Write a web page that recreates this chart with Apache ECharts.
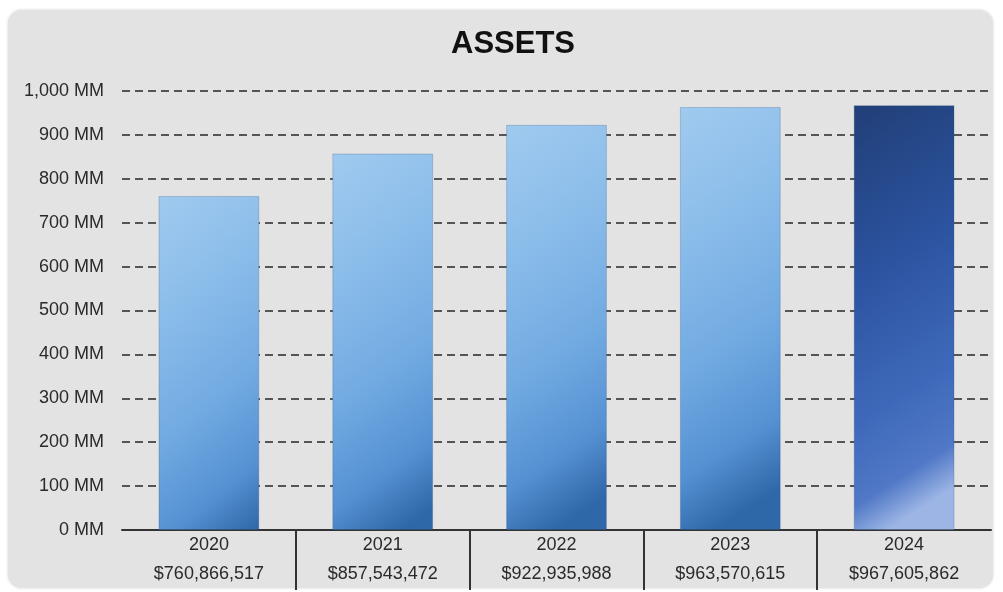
<!DOCTYPE html>
<html>
<head>
<meta charset="utf-8">
<script src="https://cdn.jsdelivr.net/npm/echarts@6/dist/echarts.min.js"></script>
<style>
  html, body { margin: 0; padding: 0; background: #ffffff; }
  #panel {
    position: absolute; left: 8px; top: 10px; width: 985px; height: 578px;
    background: #e3e3e3; border-radius: 14px;
    box-shadow: 0 0 3px rgba(0, 0, 0, 0.18);
  }
  #chart { position: absolute; left: 0; top: 0; width: 1003px; height: 592px; }
</style>
</head>
<body>
<div id="panel"></div>
<div id="chart"></div>
<script>
// Total assets by year, in dollars
const years = ['2020', '2021', '2022', '2023', '2024'];
const assets = [760866517, 857543472, 922935988, 963570615, 967605862];
const highlightYear = '2024';

// Value axis ticks (dollars)
const yMin = 0;
const yMax = 1000000000;
const yStep = 100000000;

const fmtMoney = v => '$' + v.toLocaleString('en-US');
const fmtMM = v => (v / 1e6).toLocaleString('en-US') + ' MM';

// Diagonal shading running from the top-left corner towards the bottom-right
const lightBlue = new echarts.graphic.LinearGradient(0, 0, 2, 0.75, [
  { offset: 0, color: '#a0caef' },
  { offset: 0.3, color: '#8bbdea' },
  { offset: 0.62, color: '#70a9e1' },
  { offset: 0.84, color: '#5590d2' },
  { offset: 1, color: '#2f68a8' }
]);
const darkBlue = new echarts.graphic.LinearGradient(0, 0, 2, 0.75, [
  { offset: 0, color: '#213f77' },
  { offset: 0.4, color: '#2c53a0' },
  { offset: 0.72, color: '#3e69ba' },
  { offset: 0.9, color: '#5078c6' },
  { offset: 1, color: '#9cb5e5' }
]);

// Band boundaries between year columns, used for the separator ticks
const boundaries = years.concat(['']).map((_, i) => String(i));

const labelFont = "'Liberation Sans', Arial, sans-serif";

const chart = echarts.init(document.getElementById('chart'), null, { renderer: 'canvas' });
chart.setOption({
  backgroundColor: 'transparent',
  animation: false,
  title: {
    text: 'ASSETS',
    left: 446,
    top: 24,
    textStyle: { fontFamily: labelFont, fontWeight: 'bold', fontSize: 31, color: '#111' }
  },
  grid: { left: 122, right: 12, top: 91, bottom: 62 },
  xAxis: [
    {
      type: 'category',
      data: years,
      position: 'bottom',
      axisLine: { show: true, lineStyle: { color: '#333', width: 2 } },
      axisTick: { show: false },
      axisLabel: {
        margin: 1,
        fontFamily: labelFont,
        fontSize: 18,
        lineHeight: 29,
        color: '#2a2a2a',
        formatter: (v, i) => v + '\n' + fmtMoney(assets[i])
      },
      splitLine: { show: false }
    },
    {
      type: 'category',
      data: boundaries,
      position: 'bottom',
      boundaryGap: false,
      axisLine: { show: false },
      axisLabel: { show: false },
      axisTick: {
        show: true,
        length: 60,
        interval: i => i > 0 && i < years.length,
        lineStyle: { color: '#333', width: 2 }
      },
      splitLine: { show: false }
    }
  ],
  yAxis: {
    type: 'value',
    min: yMin,
    max: yMax,
    interval: yStep,
    axisLine: { show: false },
    axisTick: { show: false },
    axisLabel: {
      margin: 18,
      fontFamily: labelFont,
      fontSize: 18,
      color: '#2a2a2a',
      formatter: fmtMM
    },
    splitLine: {
      show: true,
      lineStyle: { color: '#555', width: 2, type: [8, 5] }
    }
  },
  series: [
    {
      type: 'bar',
      xAxisIndex: 0,
      barWidth: '58%',
      data: assets.map((v, i) => ({
        value: v,
        itemStyle: {
          color: years[i] === highlightYear ? darkBlue : lightBlue,
          borderColor: 'rgba(40,80,130,0.25)',
          borderWidth: 1
        }
      }))
    }
  ]
});
</script>
</body>
</html>
